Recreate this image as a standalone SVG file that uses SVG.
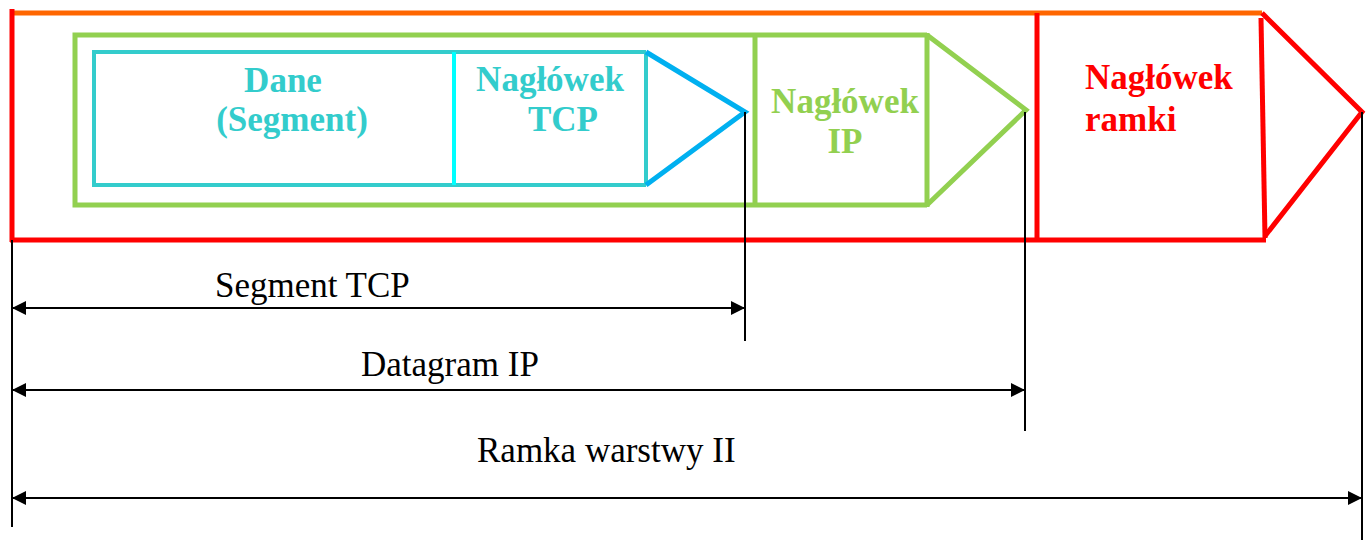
<svg xmlns="http://www.w3.org/2000/svg" width="1367" height="544" viewBox="0 0 1367 544">
  <style>
    .red { stroke: #FF0000; stroke-width: 5; fill: none; }
    .orange { stroke: #FF6600; stroke-width: 5; fill: none; }
    .green { stroke: #92D050; stroke-width: 5; fill: none; }
    .cyan { stroke: #33CCCC; stroke-width: 4; fill: none; }
    .aqua { stroke: #00FFFF; stroke-width: 4; fill: none; }
    .blue { stroke: #00B0F0; stroke-width: 5; fill: none; stroke-linejoin: miter; }
    .dim { stroke: #000; stroke-width: 2; fill: none; }
    .ext { stroke: #000; stroke-width: 2; fill: none; }
    .lbl { font-family: "Liberation Serif", "Times New Roman", serif; font-weight: bold; font-size: 35px; }
    .dimtxt { font-family: "Liberation Serif", "Times New Roman", serif; font-size: 35px; fill: #000; }
  </style>
  <defs>
    <marker id="arrow" viewBox="0 0 14 14" refX="14" refY="7" markerWidth="14" markerHeight="14" markerUnits="userSpaceOnUse" orient="auto-start-reverse">
      <path d="M0,0 L14,7 L0,14 Z" fill="#000"/>
    </marker>
  </defs>

  <!-- Layer 2 frame -->
  <g id="frame">
    <line class="orange" x1="12" y1="13" x2="1262" y2="13"/>
    <line class="red" x1="12" y1="9" x2="12" y2="242"/>
    <line class="red" x1="10" y1="240" x2="1266" y2="240"/>
    <line class="red" x1="1037" y1="13" x2="1037" y2="240"/>
  </g>

  <g id="frame-header">
    <line class="red" x1="1261" y1="18" x2="1265" y2="238"/>
    <polyline class="red" points="1262,13 1362,112 1265,236"/>
    <text class="lbl" fill="#FF0000" x="1085" y="89">Nagłówek</text>
    <text class="lbl" fill="#FF0000" x="1085" y="131">ramki</text>
  </g>

  <!-- IP datagram -->
  <g id="ip-datagram">
    <polyline class="green" points="927,35 75,35 75,205 927,205"/>
    <line class="green" x1="755" y1="35" x2="755" y2="205"/>
  </g>

  <g id="ip-header">
    <line class="green" x1="927" y1="33" x2="927" y2="207"/>
    <polyline class="green" points="927,35 1026,110 927,205"/>
    <text class="lbl" fill="#92D050" x="845" y="113" text-anchor="middle">Nagłówek</text>
    <text class="lbl" fill="#92D050" x="845" y="153" text-anchor="middle">IP</text>
  </g>

  <!-- TCP segment -->
  <g id="tcp-data">
    <polyline class="cyan" points="646,52 94,52 94,185 646,185"/>
    <text class="lbl" fill="#33CCCC" x="283" y="92" text-anchor="middle">Dane</text>
    <text class="lbl" fill="#33CCCC" x="292" y="131" text-anchor="middle">(Segment)</text>
  </g>

  <g id="tcp-header">
    <line class="aqua" x1="454" y1="52" x2="454" y2="185"/>
    <line class="cyan" x1="646" y1="52" x2="646" y2="185"/>
    <polyline class="blue" points="646,52 745,112 646,185"/>
    <text class="lbl" fill="#33CCCC" x="550" y="91" text-anchor="middle">Nagłówek</text>
    <text class="lbl" fill="#33CCCC" x="563" y="131" text-anchor="middle">TCP</text>
  </g>

  <!-- Dimension lines -->
  <g id="connectors">
    <line class="ext" x1="12" y1="240" x2="12" y2="527"/>
    <line class="ext" x1="745" y1="112" x2="745" y2="341"/>
    <line class="ext" x1="1025" y1="112" x2="1025" y2="431"/>
    <line class="ext" x1="1362" y1="112" x2="1362" y2="540"/>

    <line class="dim" x1="12" y1="308" x2="745" y2="308" marker-start="url(#arrow)" marker-end="url(#arrow)"/>
    <line class="dim" x1="12" y1="390" x2="1025" y2="390" marker-start="url(#arrow)" marker-end="url(#arrow)"/>
    <line class="dim" x1="12" y1="498" x2="1362" y2="498" marker-start="url(#arrow)" marker-end="url(#arrow)"/>
  </g>

  <g id="dimension-labels">
    <text class="dimtxt" x="215" y="297">Segment TCP</text>
    <text class="dimtxt" x="361" y="376">Datagram IP</text>
    <text class="dimtxt" x="477" y="462">Ramka warstwy II</text>
  </g>
</svg>
